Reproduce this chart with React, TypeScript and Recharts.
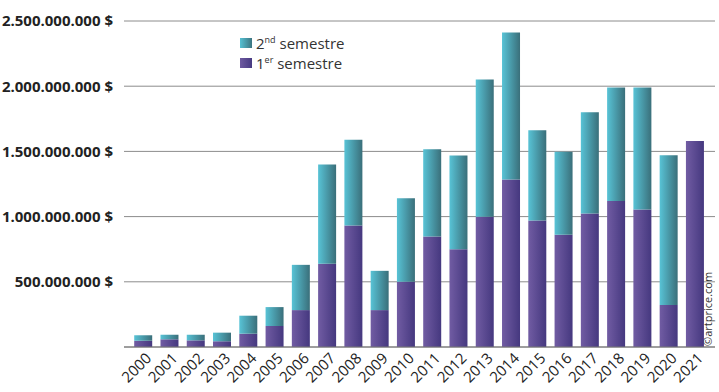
import { BarChart, Bar, XAxis, YAxis, CartesianGrid } from 'recharts'

const years = [
  '2000', '2001', '2002', '2003', '2004', '2005', '2006', '2007', '2008', '2009', '2010',
  '2011', '2012', '2013', '2014', '2015', '2016', '2017', '2018', '2019', '2020', '2021',
]

// millions of dollars
const firstSemester = [
  48, 59, 51, 44, 102, 161, 283, 638, 932, 283, 500,
  848, 750, 998, 1284, 970, 860, 1024, 1120, 1054, 322, 1580,
]
const totalYear = [
  90, 94, 94, 110, 240, 306, 630, 1400, 1590, 584, 1140,
  1516, 1468, 2052, 2412, 1662, 1498, 1800, 1990, 1990, 1470, 1580,
]

const yTicks = [0, 500, 1000, 1500, 2000, 2500]

const data = years.map((y, i) => ({
  year: y,
  s1: firstSemester[i] * 1e6,
  s2: (totalYear[i] - firstSemester[i]) * 1e6,
}))

const fmt = (v: number) =>
  v === 0 ? '' : Math.round(v).toString().replace(/\B(?=(\d{3})+(?!\d))/g, '.') + ' $'

const font = "'Open Sans', sans-serif"

function YearTick(props: any) {
  const { x, payload } = props
  const ax = x + 5
  const ay = 355
  return (
    <text
      x={ax}
      y={ay}
      transform={`rotate(-45 ${ax} ${ay})`}
      textAnchor="end"
      dominantBaseline="central"
      fontSize={15}
      fontFamily={font}
      fill="#222"
    >
      {payload.value}
    </text>
  )
}

function LegendBox() {
  const row = (bg: string, main: string, sup: string) => (
    <div style={{ display: 'flex', alignItems: 'center', height: 20 }}>
      <span style={{ width: 12, height: 10, background: bg, marginRight: 4 }} />
      <span style={{ fontSize: 15, color: '#333', fontFamily: font }}>
        {main}
        <sup style={{ fontSize: 9 }}>{sup}</sup> semestre
      </span>
    </div>
  )
  return (
    <div style={{ position: 'absolute', left: 240, top: 33 }}>
      {row('linear-gradient(to right, #55c0d3, #3c7480)', '2', 'nd')}
      {row('linear-gradient(to right, #6e5aa0, #473a82)', '1', 'er')}
    </div>
  )
}

export default function App() {
  return (
    <div style={{ position: 'absolute', left: 0, top: 0, width: 719, height: 392, background: '#fff' }}>
      <BarChart
        width={719}
        height={392}
        data={data}
        margin={{ top: 21, right: 4, left: 0, bottom: 0 }}
        barCategoryGap="16%"
      >
        <defs>
          <linearGradient id="g2" x1="0" y1="0" x2="1" y2="0">
            <stop offset="0%" stopColor="#58c3d6" />
            <stop offset="100%" stopColor="#3a6f7a" />
          </linearGradient>
          <linearGradient id="g1" x1="0" y1="0" x2="1" y2="0">
            <stop offset="0%" stopColor="#715ca3" />
            <stop offset="100%" stopColor="#45387f" />
          </linearGradient>
        </defs>
        <CartesianGrid vertical={false} stroke="#8c8c8c" />
        <XAxis
          dataKey="year"
          interval={0}
          height={45}
          tickLine={false}
          axisLine={{ stroke: '#777' }}
          tick={<YearTick />}
          padding={{ left: 6, right: 7 }}
        />
        <YAxis
          width={124}
          domain={[0, 2500e6]}
          ticks={yTicks.map((t) => t * 1e6)}
          tickFormatter={fmt}
          axisLine={false}
          tickLine={false}
          tickMargin={5}
          tick={{ fontSize: 15, fontWeight: 700, fill: '#222', fontFamily: font }}
        />
        <Bar dataKey="s1" stackId="a" fill="url(#g1)" isAnimationActive={false} />
        <Bar dataKey="s2" stackId="a" fill="url(#g2)" isAnimationActive={false} />
        <text
          x={712}
          y={346}
          transform="rotate(-90 712 346)"
          fontSize={11}
          fontFamily={font}
          fill="#333"
        >
          ©artprice.com
        </text>
      </BarChart>
      <LegendBox />
    </div>
  )
}
